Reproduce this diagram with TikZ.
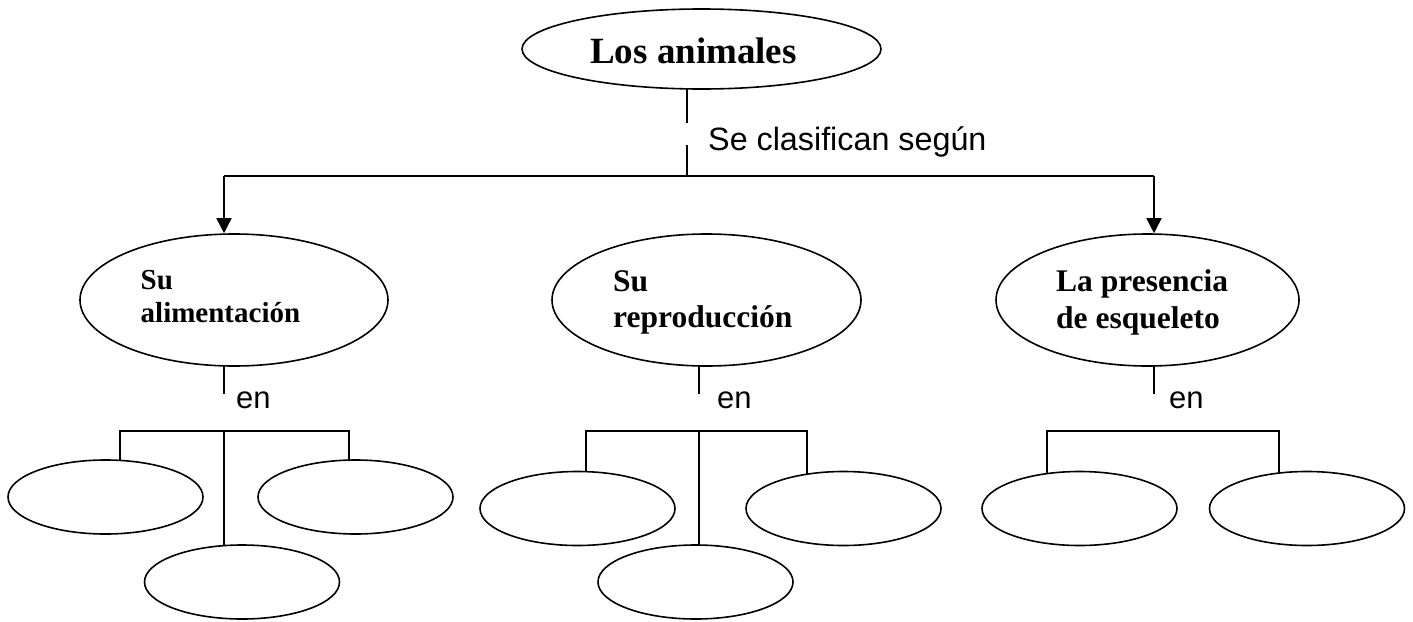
\documentclass[tikz,border=0pt]{standalone}
\usepackage{fontspec}
\setmainfont{Liberation Serif}
\newfontfamily\arialf{Liberation Sans}
\usetikzlibrary{shapes.geometric,arrows.meta,backgrounds}
\tikzset{
  conn/.style={line width=1.6pt, draw=black},
  arr/.style={conn, -{Triangle[length=15pt,width=15pt]}},
  ell/.style={ellipse, draw=black, line width=1.6pt, fill=white, inner sep=0pt},
  bigell/.style={ell, minimum width=308pt, minimum height=132pt},
  smallell/.style={ell, minimum width=195pt, minimum height=74pt},
  bold/.style={inner sep=0pt, font=\bfseries\fontsize{31.5}{36}\selectfont},
  boldsm/.style={inner sep=0pt, font=\bfseries\fontsize{29}{33}\selectfont},
  lbl/.style={inner sep=0pt, font=\arialf\fontsize{31}{36}\selectfont, anchor=base west},
}
\begin{document}
\begin{tikzpicture}[x=1pt,y=-1pt]
\useasboundingbox (0,0) rectangle (1413,621);
% top
\node[ell, minimum width=359pt, minimum height=80pt] (top) at (701.5,49) {};
\node[inner sep=0pt, anchor=base, font=\bfseries\fontsize{37}{44}\selectfont] (ttop) at (693.5,63) {Los animales};
\coordinate (g1) at (687,123);
\coordinate (g2) at (687,145);
\coordinate (h0) at (687,176);
\coordinate (hl) at (224,176);
\coordinate (hr) at (1154,176);
\node[lbl, font=\arialf\fontsize{32.3}{37}\selectfont] (clas) at (708,150) {Se clasifican según};

% big ellipses
\node[bigell] (A) at (234,300) {};
\node[bigell, minimum width=309pt] (B) at (706.5,300) {};
\node[bigell, minimum width=303pt] (C) at (1147.5,300) {};

\node[boldsm, anchor=base west] (a1) at (140.5,289) {Su};
\node[boldsm, anchor=base west] (a2) at (140.5,322) {alimentación};
\node[bold, anchor=base west] (b1) at (613,291) {Su};
\node[bold, anchor=base west] (b2) at (613,327) {reproducción};
\node[bold, anchor=base west] (c1) at (1056,291) {La presencia};
\node[bold, anchor=base west] (c2) at (1056,328) {de esqueleto};

% "en" labels
\node[lbl] (enA) at (236,408) {en};
\node[lbl] (enB) at (717,408) {en};
\node[lbl] (enC) at (1169,408) {en};

% small ellipses
\node[smallell] (A1) at (105.5,497) {};
\node[smallell] (A2) at (355.5,497) {};
\node[smallell] (A3) at (242,582) {};
\node[smallell] (B1) at (577.5,508.5) {};
\node[smallell] (B2) at (843.5,508.5) {};
\node[smallell] (B3) at (695.5,582) {};
\node[smallell] (C1) at (1079.5,508.5) {};
\node[smallell] (C2) at (1307,508.5) {};

% coordinates for the "en" connectors
\coordinate (Ae) at (224,394);
\coordinate (Ab) at (224,431);
\coordinate (Al) at (120,431);
\coordinate (Ar) at (349,431);
\coordinate (Be) at (699,394);
\coordinate (Bb) at (699,431);
\coordinate (Bl) at (586,431);
\coordinate (Br) at (807,431);
\coordinate (Ce) at (1154,394);
\coordinate (Cl) at (1047,431);
\coordinate (Cr) at (1279,431);

\begin{pgfonlayer}{background}
  \draw[conn] (g1 |- top.center) -- (g1);
  \draw[conn] (Ae |- A.center) -- (Ae);
  \draw[conn] (Be |- B.center) -- (Be);
  \draw[conn] (Ce |- C.center) -- (Ce);
  \draw[conn] (Al |- A1.center) -- (Al) -- (Ar) -- (Ar |- A2.center);
  \draw[conn] (Ab) -- (Ab |- A3.center);
  \draw[conn] (Bl |- B1.center) -- (Bl) -- (Br) -- (Br |- B2.center);
  \draw[conn] (Bb) -- (Bb |- B3.center);
  \draw[conn] (Cl |- C1.center) -- (Cl) -- (Cr) -- (Cr |- C2.center);
\end{pgfonlayer}

\draw[conn] (g2) -- (h0);
\draw[conn] (hl) -- (hr);
\draw[arr] (hl) -- (hl |- A.north);
\draw[arr] (hr) -- (hr |- C.north);
\end{tikzpicture}
\end{document}
